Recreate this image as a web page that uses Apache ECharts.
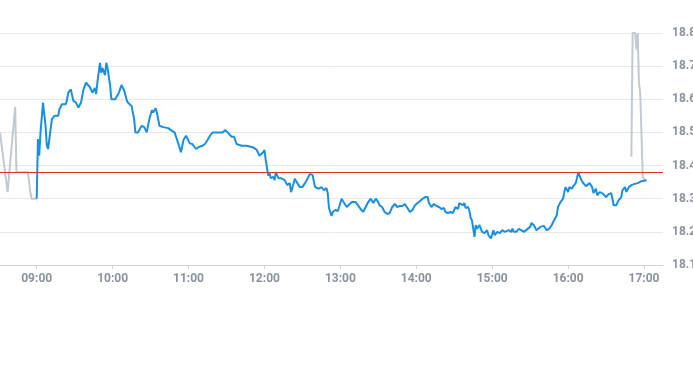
<!DOCTYPE html>
<html>
<head>
<meta charset="utf-8">
<script src="https://cdn.jsdelivr.net/npm/echarts@6/dist/echarts.min.js"></script>
<style>html,body{margin:0;padding:0;background:#fff}#c{width:693px;height:365px}</style>
</head>
<body>
<div id="c"></div>
<script>
// ---- data ----
var preMarket = [
  ["08:31",18.50],["08:37",18.32],["08:43",18.577],["08:44",18.38],["08:53",18.38],
  ["08:55",18.32],["08:56",18.30],["08:59",18.30],["09:00",18.30]
];
var afterHours = [
  ["16:50",18.427],["16:51",18.80],["16:53",18.80],["16:54",18.75],["16:55",18.80],
  ["16:56",18.65],["16:57",18.62],["16:59",18.365],["17:01",18.356]
];
var session = [
  ["09:00",18.30],["09:01",18.48],["09:02",18.43],["09:03",18.50],["09:04",18.50],["09:05",18.59],
  ["09:07",18.52],["09:08",18.46],["09:09",18.45],["09:11",18.51],["09:12",18.54],["09:14",18.55],
  ["09:17",18.55],["09:18",18.57],["09:20",18.585],["09:21",18.59],["09:23",18.585],["09:24",18.60],
  ["09:25",18.62],["09:27",18.63],["09:28",18.625],["09:29",18.595],["09:31",18.59],["09:33",18.575],
  ["09:34",18.578],["09:35",18.59],["09:37",18.63],["09:39",18.65],["09:40",18.652],["09:42",18.637],
  ["09:43",18.634],["09:44",18.62],["09:46",18.634],["09:47",18.616],["09:48",18.652],["09:50",18.71],
  ["09:51",18.68],["09:52",18.694],["09:54",18.673],["09:55",18.71],["09:56",18.694],["09:58",18.643],
  ["09:59",18.60],["10:02",18.60],["10:03",18.60],["10:05",18.62],["10:07",18.643],["10:09",18.628],
  ["10:11",18.60],["10:12",18.59],["10:15",18.58],["10:17",18.54],["10:18",18.50],["10:20",18.50],
  ["10:23",18.52],["10:25",18.516],["10:27",18.50],["10:29",18.54],["10:31",18.567],["10:32",18.56],
  ["10:34",18.573],["10:35",18.56],["10:37",18.52],["10:40",18.516],["10:44",18.513],["10:46",18.507],
  ["10:49",18.50],["10:51",18.477],["10:53",18.453],["10:54",18.44],["10:56",18.477],["10:58",18.49],
  ["10:59",18.483],["11:01",18.467],["11:03",18.465],["11:06",18.45],["11:08",18.456],["11:11",18.46],
  ["11:13",18.465],["11:15",18.477],["11:17",18.49],["11:19",18.50],["11:23",18.50],["11:27",18.50],
  ["11:29",18.507],["11:31",18.50],["11:34",18.487],["11:36",18.487],["11:38",18.465],["11:42",18.46],
  ["11:46",18.46],["11:50",18.456],["11:52",18.453],["11:54",18.447],["11:56",18.43],["11:57",18.426],
  ["11:59",18.44],["12:00",18.447],["12:01",18.417],["12:03",18.37],["12:04",18.378],["12:05",18.362],
  ["12:07",18.366],["12:08",18.356],["12:09",18.38],["12:11",18.362],["12:13",18.362],["12:16",18.356],
  ["12:18",18.341],["12:20",18.347],["12:21",18.32],["12:22",18.332],["12:24",18.36],["12:26",18.347],
  ["12:28",18.335],["12:30",18.335],["12:32",18.347],["12:34",18.36],["12:36",18.375],["12:38",18.372],
  ["12:40",18.335],["12:41",18.338],["12:43",18.33],["12:45",18.335],["12:47",18.326],["12:49",18.332],
  ["12:50",18.317],["12:51",18.272],["12:53",18.248],["12:54",18.26],["12:56",18.266],["12:58",18.263],
  ["12:59",18.275],["13:01",18.30],["13:02",18.293],["13:05",18.275],["13:06",18.269],["13:09",18.29],
  ["13:10",18.296],["13:12",18.29],["13:14",18.28],["13:16",18.269],["13:18",18.26],["13:20",18.275],
  ["13:22",18.29],["13:24",18.30],["13:26",18.287],["13:28",18.30],["13:30",18.29],["13:31",18.28],
  ["13:33",18.275],["13:35",18.26],["13:37",18.254],["13:39",18.257],["13:41",18.275],["13:43",18.284],
  ["13:45",18.275],["13:47",18.278],["13:49",18.278],["13:51",18.284],["13:53",18.272],["13:55",18.26],
  ["13:57",18.266],["13:59",18.28],["14:01",18.287],["14:03",18.293],["14:05",18.30],["14:07",18.305],
  ["14:09",18.305],["14:10",18.287],["14:12",18.275],["14:14",18.284],["14:16",18.278],["14:18",18.275],
  ["14:20",18.269],["14:22",18.272],["14:23",18.26],["14:25",18.257],["14:27",18.26],["14:29",18.257],
  ["14:31",18.275],["14:33",18.269],["14:34",18.287],["14:35",18.29],["14:37",18.28],["14:38",18.287],
  ["14:39",18.272],["14:41",18.275],["14:42",18.263],["14:43",18.242],["14:44",18.235],["14:46",18.185],
  ["14:47",18.22],["14:48",18.21],["14:50",18.22],["14:51",18.215],["14:52",18.20],["14:54",18.196],
  ["14:56",18.205],["14:57",18.19],["14:59",18.18],["15:01",18.205],["15:02",18.19],["15:04",18.20],
  ["15:06",18.196],["15:08",18.205],["15:10",18.20],["15:11",18.196],["15:13",18.205],["15:15",18.20],
  ["15:16",18.21],["15:17",18.20],["15:19",18.20],["15:21",18.209],["15:23",18.205],["15:25",18.20],
  ["15:26",18.205],["15:28",18.209],["15:30",18.215],["15:31",18.227],["15:33",18.22],["15:35",18.205],
  ["15:36",18.21],["15:38",18.215],["15:39",18.21],["15:41",18.218],["15:43",18.205],["15:45",18.209],
  ["15:47",18.22],["15:49",18.236],["15:51",18.25],["15:52",18.275],["15:54",18.29],["15:56",18.30],
  ["15:57",18.32],["15:58",18.335],["15:59",18.33],["16:00",18.32],["16:01",18.335],["16:03",18.33],
  ["16:04",18.338],["16:06",18.347],["16:07",18.362],["16:08",18.38],["16:10",18.36],["16:12",18.347],
  ["16:14",18.338],["16:15",18.335],["16:17",18.347],["16:19",18.335],["16:20",18.317],["16:22",18.33],
  ["16:23",18.31],["16:25",18.32],["16:27",18.317],["16:28",18.317],["16:30",18.305],["16:32",18.314],
  ["16:34",18.317],["16:35",18.30],["16:36",18.28],["16:38",18.28],["16:40",18.296],["16:42",18.305],
  ["16:43",18.326],["16:45",18.335],["16:46",18.32],["16:48",18.335],["16:50",18.341],["16:52",18.344],
  ["16:55",18.347],["16:58",18.353],["17:02",18.356]
];
var prevClose = 18.375;
var hourLabels = ["09:00","10:00","11:00","12:00","13:00","14:00","15:00","16:00","17:00"];
var xStart = "08:31", xEnd = "17:15";
var yMin = 18.1, yMax = 18.8, yStep = 0.1;

// ---- helpers ----
function toMin(s){ var p = s.split(":"); return (+p[0])*60 + (+p[1]); }
function toHHMM(m){ var h = Math.floor(m/60), mm = Math.round(m%60); return (h<10?"0":"")+h+":"+(mm<10?"0":"")+mm; }
function conv(arr){ return arr.map(function(d){ return [toMin(d[0]), d[1]]; }); }

var labelColor = "#8a929e";
var chart = echarts.init(document.getElementById("c"), null, {renderer:"canvas"});
chart.setOption({
  animation:false,
  grid:{left:0, right:30, top:33, bottom:100, containLabel:false, outerBoundsMode:"none"},
  xAxis:{
    type:"value", min:toMin(xStart), max:toMin(xEnd),
    axisLine:{show:true, lineStyle:{color:"#cfd4da", width:1}},
    axisTick:{show:true, length:4, lineStyle:{color:"#cfd4da"}, customValues:hourLabels.map(toMin)},
    axisLabel:{color:labelColor, fontSize:12, fontWeight:"bold", fontFamily:"Roboto, sans-serif", margin:8,
      customValues:hourLabels.map(toMin), formatter:function(v){ return toHHMM(v); }},
    splitLine:{show:false}
  },
  yAxis:{
    type:"value", position:"right", min:yMin, max:yMax, interval:yStep,
    axisLine:{show:false}, axisTick:{show:false},
    axisLabel:{color:labelColor, fontSize:12, fontWeight:"bold", fontFamily:"Roboto, sans-serif", margin:9,
      formatter:function(v){ return v.toFixed(1); }},
    splitLine:{show:true, lineStyle:{color:"#e6e8eb", width:1}}
  },
  series:[
    {type:"line", data:conv(preMarket), showSymbol:false, symbol:"none",
      lineStyle:{color:"#c2cad1", width:2}, z:2},
    {type:"line", data:conv(afterHours), showSymbol:false, symbol:"none",
      lineStyle:{color:"#c2cad1", width:2}, z:2},
    {type:"line", data:conv(session), showSymbol:false, symbol:"none",
      lineStyle:{color:"#1a8fe0", width:2}, z:3,
      markLine:{silent:true, symbol:"none", label:{show:false},
        lineStyle:{color:"#d9322b", width:1, type:"solid"},
        data:[{yAxis:prevClose}]}}
  ]
});
</script>
</body>
</html>
